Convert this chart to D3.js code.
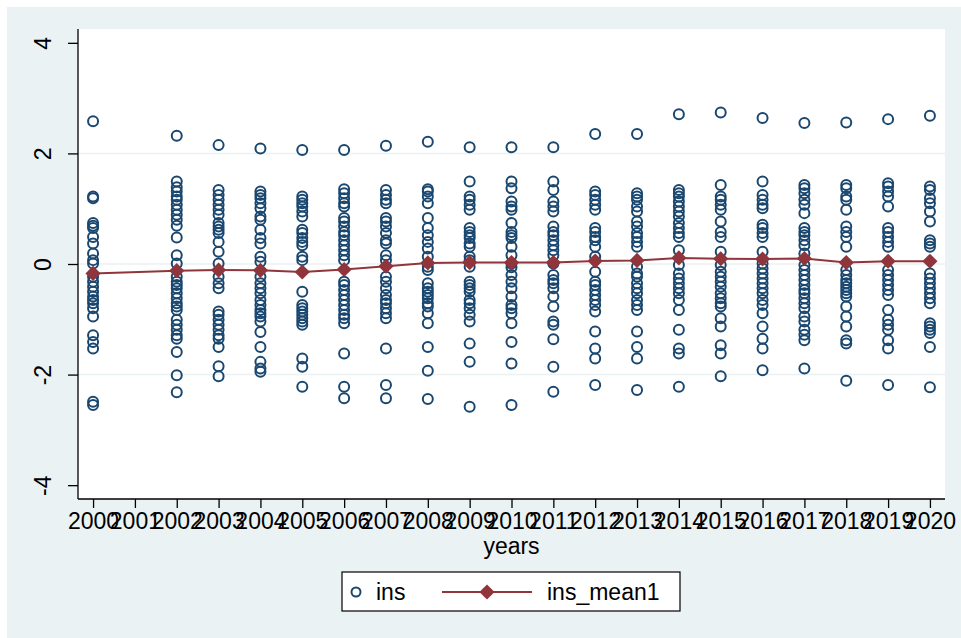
<!DOCTYPE html>
<html>
<head>
<meta charset="utf-8">
<script src="https://cdn.jsdelivr.net/npm/d3@7/dist/d3.min.js"></script>
<style>
  html, body { margin: 0; padding: 0; background: #ffffff; }
  svg { display: block; }
  text { font-family: "Liberation Sans", Arial, sans-serif; fill: #000; }
</style>
</head>
<body>
<svg id="chart" width="961" height="638"></svg>
<script>
// Observation years and the ins values recorded in each year
const years = [2000, 2002, 2003, 2004, 2005, 2006, 2007, 2008, 2009, 2010,
               2011, 2012, 2013, 2014, 2015, 2016, 2017, 2018, 2019, 2020];

const insValues = [
  [2.58, 1.22, 1.19, 0.74, 0.69, 0.65, 0.49, 0.37, 0.19, 0.07, 0.01, -0.23, -0.32, -0.41, -0.50, -0.59, -0.65, -0.71, -0.80, -0.95, -1.29, -1.41, -1.53, -2.49, -2.55],
  [2.32, 1.49, 1.39, 1.31, 1.22, 1.16, 1.07, 0.98, 0.89, 0.80, 0.69, 0.48, 0.16, 0.01, -0.23, -0.32, -0.38, -0.44, -0.53, -0.62, -0.71, -0.77, -0.83, -1.01, -1.10, -1.19, -1.29, -1.35, -1.59, -2.01, -2.32],
  [2.15, 1.34, 1.25, 1.16, 1.07, 0.98, 0.89, 0.74, 0.68, 0.62, 0.56, 0.40, 0.22, 0.01, -0.23, -0.35, -0.44, -0.86, -0.92, -1.01, -1.10, -1.19, -1.29, -1.35, -1.50, -1.85, -2.03],
  [2.09, 1.31, 1.25, 1.19, 1.10, 1.01, 0.86, 0.80, 0.62, 0.47, 0.37, 0.13, 0.04, -0.23, -0.35, -0.44, -0.53, -0.65, -0.74, -0.83, -0.89, -0.95, -1.04, -1.23, -1.50, -1.77, -1.89, -1.95],
  [2.06, 1.22, 1.16, 1.10, 1.04, 0.95, 0.86, 0.62, 0.56, 0.47, 0.40, 0.34, 0.13, 0.07, -0.50, -0.74, -0.80, -0.86, -0.92, -0.98, -1.04, -1.10, -1.71, -1.86, -2.22],
  [2.06, 1.35, 1.28, 1.19, 1.10, 1.04, 0.83, 0.77, 0.68, 0.58, 0.52, 0.43, 0.34, 0.25, 0.16, 0.07, -0.32, -0.38, -0.47, -0.56, -0.65, -0.74, -0.83, -0.92, -0.98, -1.07, -1.62, -2.22, -2.43],
  [2.14, 1.34, 1.25, 1.16, 1.10, 0.83, 0.77, 0.68, 0.56, 0.43, 0.37, 0.16, 0.07, -0.23, -0.32, -0.44, -0.56, -0.65, -0.71, -0.80, -0.89, -0.98, -1.53, -2.19, -2.43],
  [2.21, 1.35, 1.31, 1.22, 1.10, 0.83, 0.65, 0.52, 0.40, 0.28, 0.13, -0.05, -0.11, -0.35, -0.44, -0.50, -0.56, -0.62, -0.71, -0.77, -0.89, -1.07, -1.50, -1.93, -2.44],
  [2.11, 1.49, 1.22, 1.16, 1.07, 0.98, 0.65, 0.58, 0.52, 0.47, 0.37, 0.31, 0.13, 0.07, -0.05, -0.32, -0.38, -0.44, -0.50, -0.65, -0.71, -0.80, -0.92, -1.04, -1.44, -1.77, -2.58],
  [2.11, 1.49, 1.37, 1.13, 1.04, 0.98, 0.74, 0.58, 0.52, 0.47, 0.31, 0.16, 0.01, -0.06, -0.20, -0.32, -0.44, -0.59, -0.74, -0.80, -0.89, -1.07, -1.41, -1.80, -2.55],
  [2.11, 1.49, 1.34, 1.13, 1.04, 0.95, 0.68, 0.58, 0.52, 0.43, 0.34, 0.25, 0.16, 0.01, -0.20, -0.29, -0.35, -0.44, -0.59, -0.77, -1.04, -1.10, -1.36, -1.86, -2.31],
  [2.35, 1.31, 1.25, 1.16, 1.07, 0.98, 0.65, 0.58, 0.49, 0.43, 0.31, 0.13, -0.14, -0.32, -0.38, -0.47, -0.56, -0.65, -0.74, -0.86, -1.22, -1.53, -1.71, -2.19],
  [2.35, 1.28, 1.22, 1.16, 1.04, 0.95, 0.77, 0.68, 0.56, 0.49, 0.40, 0.31, -0.05, -0.17, -0.23, -0.35, -0.44, -0.53, -0.65, -0.74, -0.83, -1.22, -1.50, -1.71, -2.28],
  [2.71, 1.34, 1.28, 1.22, 1.13, 1.04, 0.95, 0.86, 0.74, 0.65, 0.56, 0.49, 0.25, -0.02, -0.17, -0.26, -0.35, -0.44, -0.53, -0.65, -0.83, -1.19, -1.53, -1.62, -2.22],
  [2.74, 1.43, 1.22, 1.16, 1.07, 0.98, 0.77, 0.58, 0.49, 0.22, -0.02, -0.14, -0.23, -0.32, -0.41, -0.53, -0.62, -0.71, -0.77, -0.98, -1.13, -1.47, -1.62, -2.03],
  [2.64, 1.49, 1.25, 1.16, 1.07, 1.01, 0.71, 0.65, 0.56, 0.49, 0.22, 0.01, -0.08, -0.17, -0.26, -0.35, -0.44, -0.53, -0.65, -0.74, -0.89, -1.13, -1.35, -1.53, -1.92],
  [2.55, 1.43, 1.37, 1.28, 1.16, 1.07, 0.92, 0.65, 0.58, 0.52, 0.43, 0.34, 0.19, -0.02, -0.11, -0.20, -0.29, -0.38, -0.47, -0.53, -0.62, -0.71, -0.80, -0.95, -1.04, -1.19, -1.28, -1.38, -1.89],
  [2.56, 1.43, 1.37, 1.22, 1.16, 0.98, 0.68, 0.58, 0.49, 0.31, -0.11, -0.20, -0.29, -0.35, -0.41, -0.47, -0.53, -0.59, -0.77, -0.95, -1.13, -1.38, -1.44, -2.11],
  [2.62, 1.46, 1.40, 1.31, 1.22, 1.04, 0.65, 0.58, 0.49, 0.40, 0.31, -0.11, -0.20, -0.29, -0.38, -0.47, -0.56, -0.83, -1.01, -1.10, -1.19, -1.38, -1.53, -2.19],
  [2.68, 1.40, 1.34, 1.19, 1.10, 0.95, 0.77, 0.43, 0.37, 0.31, -0.17, -0.26, -0.35, -0.44, -0.53, -0.62, -0.71, -1.07, -1.13, -1.19, -1.25, -1.50, -2.23]
];

// Yearly mean of ins (ins_mean1)
const insMean = [-0.17, -0.12, -0.11, -0.115, -0.145, -0.10, -0.04, 0.02, 0.025, 0.025,
                 0.025, 0.055, 0.065, 0.11, 0.095, 0.09, 0.10, 0.025, 0.05, 0.05];

const xTickLabels = d3.range(2000, 2021);
const yTickLabels = [-4, -2, 0, 2, 4];
const gridValues = [-2, 0, 2];

const navy = "#1a476f";
const maroon = "#90353b";
const fontSize = 23;
const plainNumber = d => String(d);

const svg = d3.select("#chart");

// Backgrounds: outer graph region and white plot region
svg.append("rect").attr("x", 7).attr("y", 7).attr("width", 954).attr("height", 631).attr("fill", "#eaf2f3");

const plot = { left: 78, right: 945, top: 29, bottom: 499 };
svg.append("rect")
  .attr("x", plot.left).attr("y", plot.top)
  .attr("width", plot.right - plot.left).attr("height", plot.bottom - plot.top)
  .attr("fill", "#ffffff");

const x = d3.scaleLinear().domain([1999.64, 2020.36]).range([plot.left, plot.right]);
const y = d3.scaleLinear().domain([-4.25, 4.25]).range([plot.bottom, plot.top]);

// Horizontal grid lines
svg.append("g").selectAll("line").data(gridValues).join("line")
  .attr("x1", plot.left).attr("x2", plot.right)
  .attr("y1", d => y(d)).attr("y2", d => y(d))
  .attr("stroke", "#eaf2f3").attr("stroke-width", 1.5);

// Y axis
const yAxis = svg.append("g")
  .attr("transform", `translate(${plot.left},0)`)
  .call(d3.axisLeft(y).tickValues(yTickLabels).tickSize(10).tickPadding(0).tickFormat(plainNumber));
yAxis.attr("font-size", fontSize).attr("font-family", "'Liberation Sans', Arial, sans-serif");
yAxis.select(".domain").attr("stroke", "#000").attr("stroke-width", 1.3).attr("d", `M0,${plot.top}V${plot.bottom}`);
yAxis.selectAll(".tick line").attr("stroke", "#000").attr("stroke-width", 1.3);
yAxis.selectAll(".tick text")
  .attr("text-anchor", "middle")
  .attr("x", 0).attr("y", 0).attr("dy", "0.35em")
  .attr("transform", "translate(-35,0) rotate(-90)")
  .attr("fill", "#000");

// X axis
const xAxis = svg.append("g")
  .attr("transform", `translate(0,${plot.bottom})`)
  .call(d3.axisBottom(x).tickValues(xTickLabels).tickSize(9).tickPadding(5).tickFormat(plainNumber));
xAxis.attr("font-size", fontSize).attr("font-family", "'Liberation Sans', Arial, sans-serif");
xAxis.select(".domain").attr("stroke", "#000").attr("stroke-width", 1.3).attr("d", `M${plot.left},0H${plot.right}`);
xAxis.selectAll(".tick line").attr("stroke", "#000").attr("stroke-width", 1.3);
xAxis.selectAll(".tick text").attr("fill", "#000");

svg.append("text")
  .attr("x", (plot.left + plot.right) / 2).attr("y", 554)
  .attr("text-anchor", "middle").attr("font-size", fontSize)
  .text("years");

// Scatter of ins
const points = years.flatMap((yr, i) => insValues[i].map(v => ({ yr, v })));
svg.append("g").selectAll("circle").data(points).join("circle")
  .attr("cx", d => x(d.yr)).attr("cy", d => y(d.v)).attr("r", 5)
  .attr("fill", "none").attr("stroke", navy).attr("stroke-width", 2);

// Mean line with diamond markers
const meanData = years.map((yr, i) => ({ yr, v: insMean[i] }));
svg.append("path").datum(meanData)
  .attr("d", d3.line().x(d => x(d.yr)).y(d => y(d.v)))
  .attr("fill", "none").attr("stroke", maroon).attr("stroke-width", 2);

const diamondPath = d3.symbol().type(d3.symbolSquare).size(115);
svg.append("g").selectAll("path").data(meanData).join("path")
  .attr("transform", d => `translate(${x(d.yr)},${y(d.v)}) rotate(45)`)
  .attr("d", diamondPath)
  .attr("fill", maroon);

// Legend
const legend = svg.append("g");
legend.append("rect").attr("x", 342).attr("y", 572).attr("width", 338).attr("height", 39)
  .attr("fill", "#ffffff").attr("stroke", "#000").attr("stroke-width", 1.2);
legend.append("circle").attr("cx", 356).attr("cy", 592).attr("r", 4.5)
  .attr("fill", "none").attr("stroke", navy).attr("stroke-width", 2);
legend.append("text").attr("x", 376).attr("y", 600).attr("font-size", fontSize).text("ins");
legend.append("line").attr("x1", 442).attr("x2", 532).attr("y1", 592).attr("y2", 592)
  .attr("stroke", maroon).attr("stroke-width", 2);
legend.append("path").attr("transform", "translate(487,592) rotate(45)")
  .attr("d", diamondPath).attr("fill", maroon);
legend.append("text").attr("x", 547).attr("y", 600).attr("font-size", fontSize).text("ins_mean1");
</script>
</body>
</html>
